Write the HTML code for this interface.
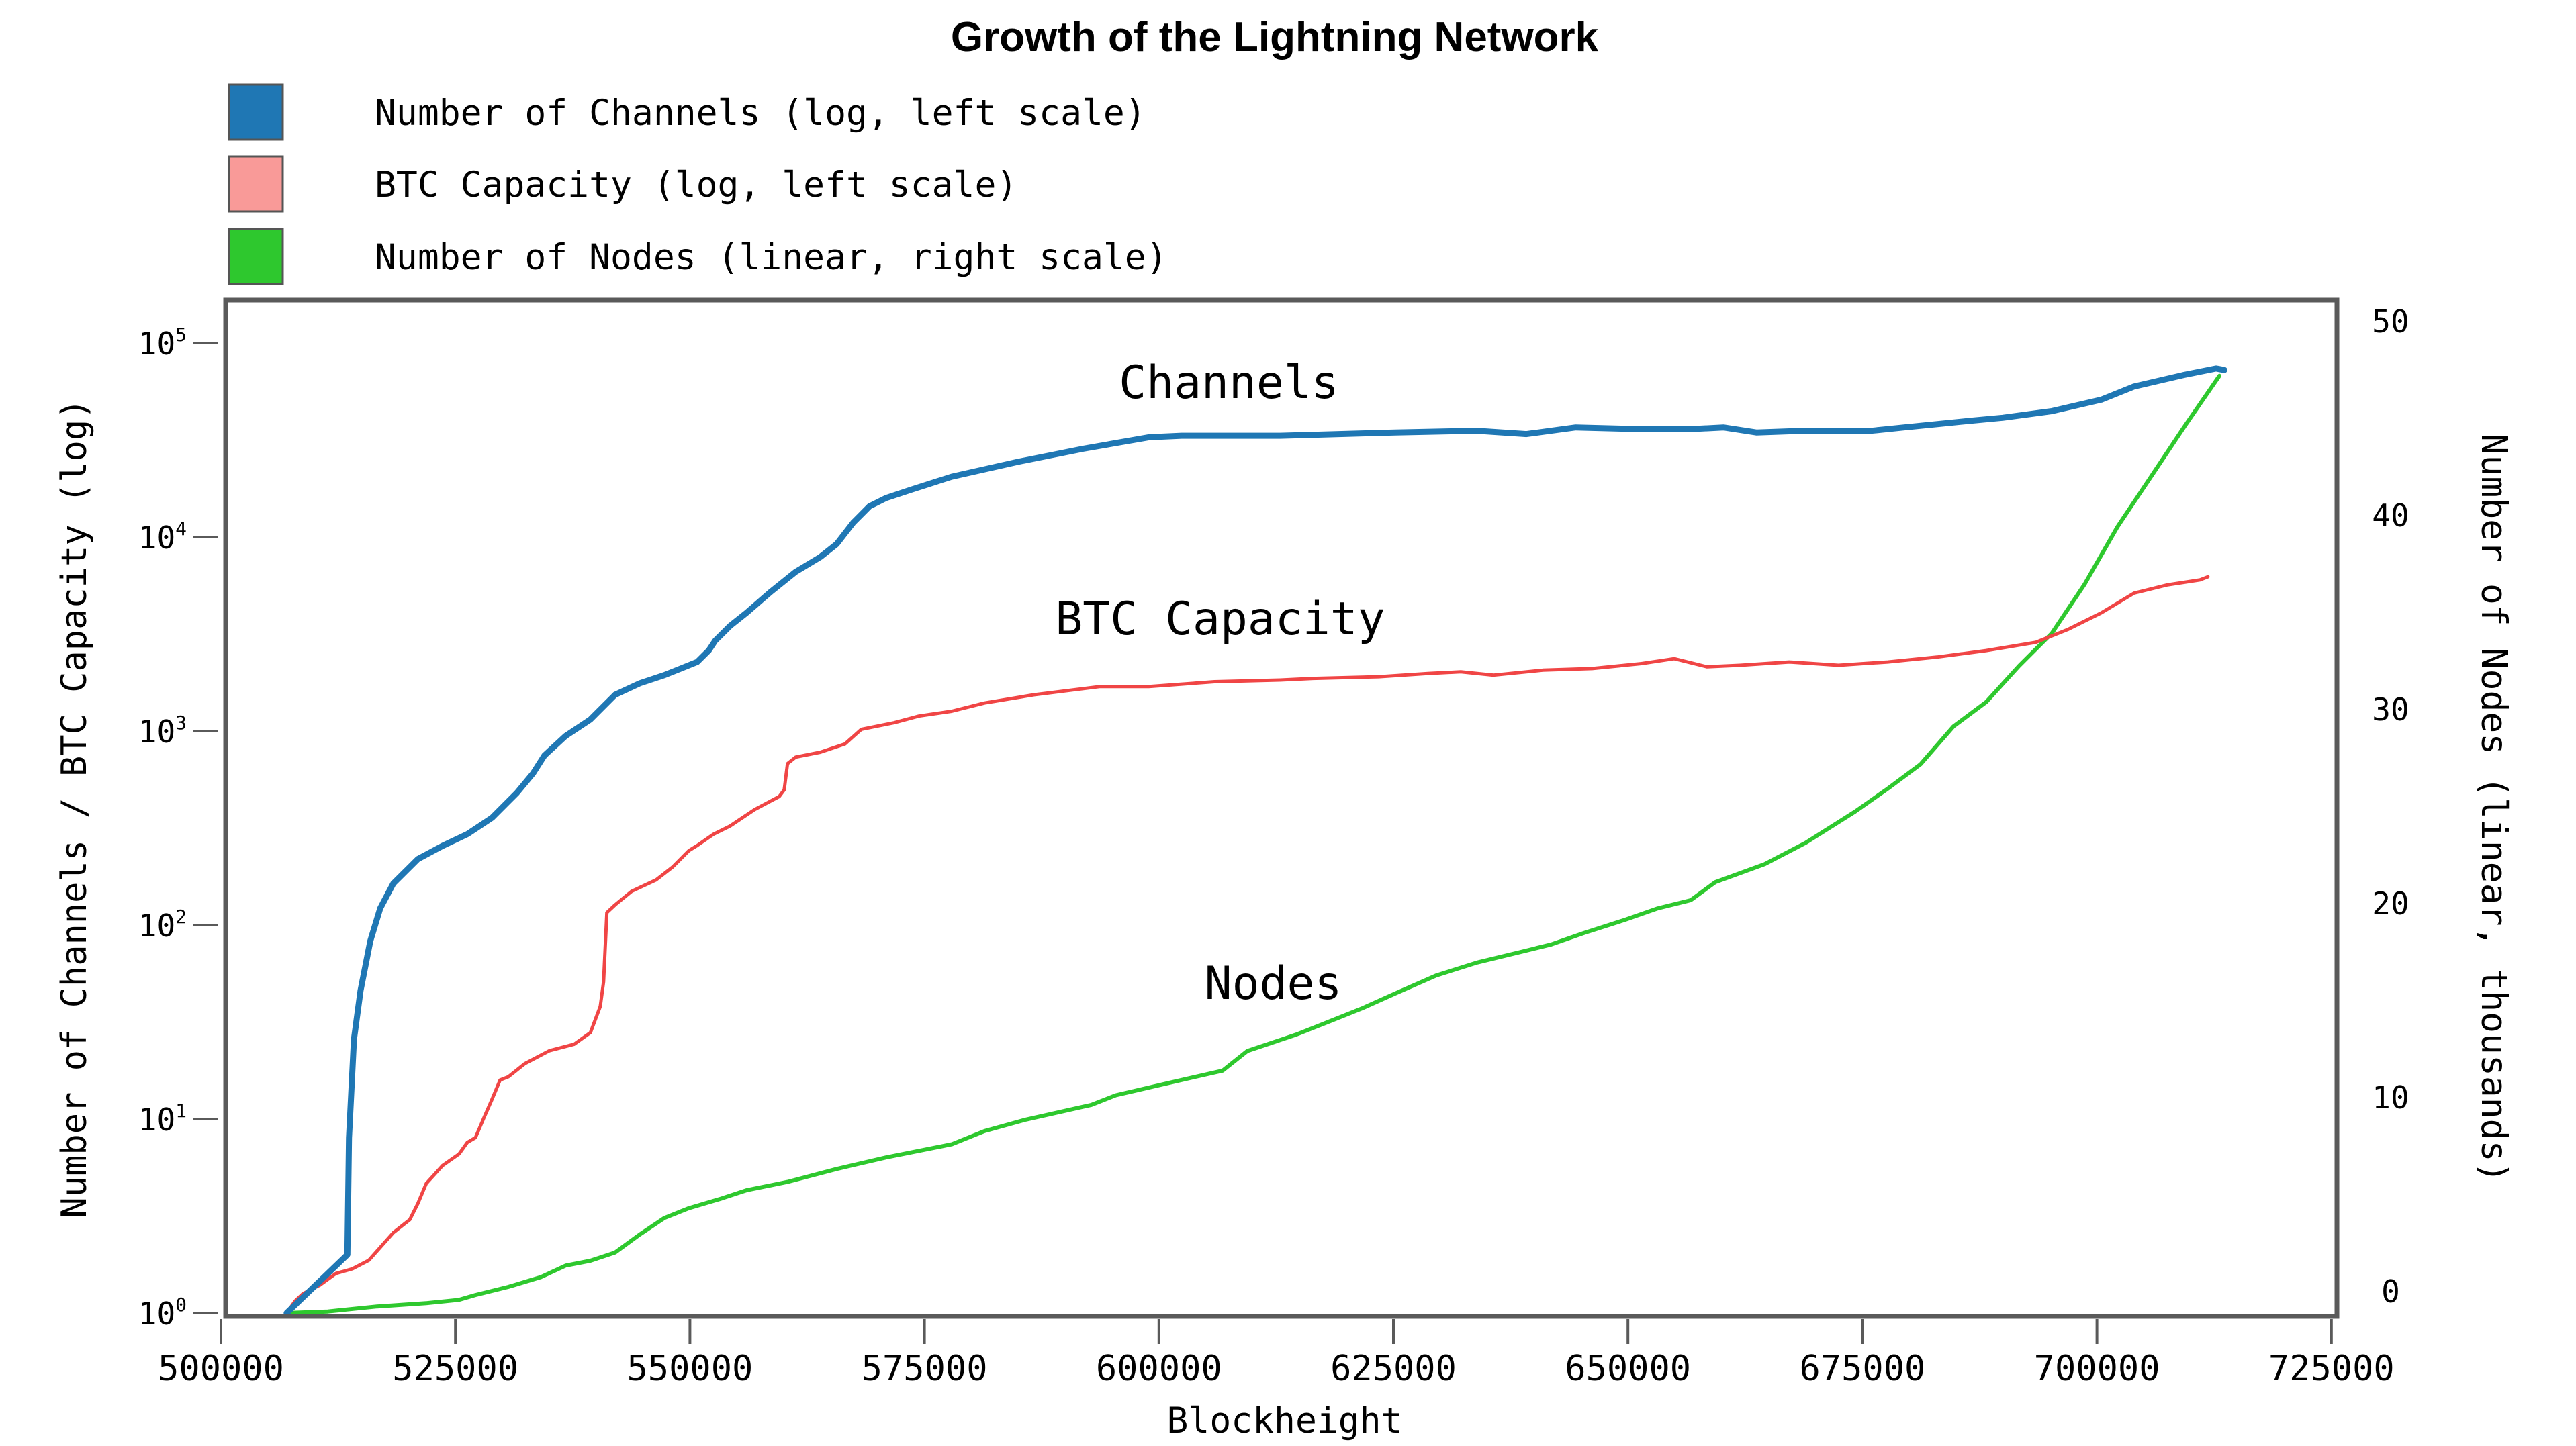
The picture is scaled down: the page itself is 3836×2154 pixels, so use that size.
<!DOCTYPE html>
<html><head><meta charset="utf-8"><style>
html,body{margin:0;padding:0;background:#fff;}
svg{display:block;}
text{font-family:"DejaVu Sans Mono","Liberation Mono",monospace;fill:#000;}
</style></head><body>
<svg id="chart" width="3836" height="2154" viewBox="0 0 3836 2154" xmlns="http://www.w3.org/2000/svg">
<text x="1898" y="76" text-anchor="middle" style="font-family:'Liberation Sans',sans-serif;font-weight:bold;font-size:62px">Growth of the Lightning Network</text>
<g>
 <rect x="341" y="126" width="80" height="82" fill="#1f77b4" stroke="#555" stroke-width="3"/>
 <text x="558" y="186" font-size="53">Number of Channels (log, left scale)</text>
 <rect x="341" y="233" width="80" height="82" fill="#f99a98" stroke="#555" stroke-width="3"/>
 <text x="558" y="293" font-size="53">BTC Capacity (log, left scale)</text>
 <rect x="341" y="341" width="80" height="82" fill="#2ec82e" stroke="#555" stroke-width="3"/>
 <text x="558" y="401" font-size="53">Number of Nodes (linear, right scale)</text>
</g>
<g id="axes"></g>
<g id="series"></g>
<rect x="336" y="447" width="3144" height="1514" fill="none" stroke="#5a5a5a" stroke-width="7"/>
<text x="1830" y="593" text-anchor="middle" font-size="68">Channels</text>
<text x="1817" y="945" text-anchor="middle" font-size="68">BTC Capacity</text>
<text x="1896" y="1488" text-anchor="middle" font-size="68">Nodes</text>
<text x="1913" y="2134" text-anchor="middle" font-size="53">Blockheight</text>
<text transform="translate(128,1204) rotate(-90)" text-anchor="middle" font-size="52">Number of Channels / BTC Capacity (log)</text>
<text transform="translate(3696,1204) rotate(90)" text-anchor="middle" font-size="53">Number of Nodes (linear, thousands)</text>
</svg>
<script>
const xTicks = [500000,525000,550000,575000,600000,625000,650000,675000,700000,725000];
const logTicks = [0,1,2,3,4,5];
const nodeTicks = [0,10,20,30,40,50];
const chanBlocks = [507003,513480,513655,514181,514881,515931,516982,518382,521008,523634,526261,528887,531513,533263,534489,536765,539391,542017,544643,547269,550770,551996,552696,554272,556022,558649,561275,563901,565652,567402,569153,570903,573529,577906,584909,591912,598915,602416,612921,625176,633929,639181,644433,651436,656689,660190,663691,668943,675946,679448,686451,689952,695204,700456,703957,709209,712711,713586];
const chanValues = [1,2,8,25.8,46,83,122,164,219,256,294,357,478,604,748,945,1148,1538,1762,1942,2270,2600,2924,3483,4066,5238,6620,7890,9210,11860,14420,15890,17510,20470,24380,28500,32660,33280,33280,34600,35300,33960,36720,35990,35990,36720,34600,35300,35300,36720,39700,41200,44580,51060,59700,68400,73960,72600];
const capBlocks = [507003,507878,508754,510504,512255,514006,515756,516982,518382,520133,521008,521884,523634,525385,526261,527136,528011,528887,529762,530637,532388,535014,537640,539391,540441,540791,541141,542017,543767,546394,548144,549895,550770,552521,554272,556898,559524,560049,560399,561275,563901,566527,568277,571779,574405,577906,581408,586660,593663,598915,605918,612921,616422,623425,628677,632178,635680,640932,646184,651436,654937,658439,661940,667192,672445,677697,682949,688201,693454,696955,700456,703957,707459,710960,711836];
const capValues = [1,1.15,1.26,1.39,1.6,1.69,1.87,2.18,2.6,3.03,3.68,4.65,5.76,6.61,7.57,8.02,10.1,12.6,15.9,16.5,19.3,22.5,24.3,27.9,38.1,51,116,127,149,171,199,242,257,294,324,394,460,498,679,734,778,858,1021,1104,1194,1265,1395,1538,1695,1695,1796,1832,1868,1905,1981,2020,1942,2060,2100,2228,2361,2143,2184,2270,2184,2270,2406,2600,2865,3348,4066,5140,5660,6010,6240];
const nodeBlocks = [507003,511380,516632,521884,525385,527136,530637,534139,536765,539391,542017,544643,547269,549895,553396,556022,560399,565652,570903,577906,581408,585785,592787,595413,600665,606793,609419,614671,618172,621674,625176,629552,633929,638305,641807,645308,649685,653186,656689,659314,664566,668943,674195,677697,681198,684700,688201,691702,695204,698705,702206,705707,709209,713061];
const nodeValues = [0,0.08,0.34,0.51,0.68,0.93,1.35,1.86,2.45,2.7,3.12,4.05,4.9,5.41,5.91,6.33,6.76,7.43,8.02,8.7,9.38,9.97,10.73,11.23,11.82,12.5,13.51,14.36,15.03,15.71,16.47,17.4,18.07,18.58,19.0,19.59,20.27,20.86,21.28,22.21,23.14,24.24,25.84,27.03,28.29,30.24,31.5,33.36,35.05,37.58,40.54,43.07,45.61,48.31];

const NS='http://www.w3.org/2000/svg';
function xS(b){return 329+(b-500000)*349.2/25000;}
function yLog(v){return 1956-Math.log10(v)*289;}
function yLin(n){return 1956-n*28.9;}
const axes=document.getElementById('axes');
const series=document.getElementById('series');
function mk(tag,attrs,parent){const e=document.createElementNS(NS,tag);for(const k in attrs)e.setAttribute(k,attrs[k]);parent.appendChild(e);return e;}

xTicks.forEach(t=>{
  const x=xS(t);
  const l=mk('line',{x1:x,x2:x,y1:1965,y2:2002,stroke:'#5a5a5a','stroke-width':4},axes);
  
  
  const tx=mk('text',{x:x,y:2056,'text-anchor':'middle','font-size':52},axes);
  
  
  tx.textContent=String(t);
});
logTicks.forEach(p=>{
  const y=yLog(Math.pow(10,p));
  const l=mk('line',{x1:288,x2:325,y1:y,y2:y,stroke:'#5a5a5a','stroke-width':4},axes);
  
  
  const tx=mk('text',{x:278,y:y+17,'text-anchor':'end','font-size':46},axes);
  
  
  tx.textContent='10';
  const sp=mk('tspan',{dy:-20,'font-size':28},tx);
  sp.textContent=String(p);
});
nodeTicks.forEach(n=>{
  const y=yLin(n)-32;
  const tx=mk('text',{x:3560,y:y+16,'text-anchor':'middle','font-size':46},axes);
  
  
  tx.textContent=String(n);
});
function line(bs,vs,ys,color,w,name){
  const d=bs.map((b,i)=>(i?'L':'M')+xS(b).toFixed(1)+','+ys(vs[i]).toFixed(1)).join(' ');
  const p=mk('path',{d:d,fill:'none',stroke:color,'stroke-width':w,'stroke-linejoin':'round','stroke-linecap':'round'},series);
  
  
}
line(nodeBlocks,nodeValues,yLin,'#2ec82e',6,'nodes-line');
line(capBlocks,capValues,yLog,'#f04545',5,'btc-capacity-line');
line(chanBlocks,chanValues,yLog,'#1f77b4',9,'channels-line');
</script>
</body></html>
